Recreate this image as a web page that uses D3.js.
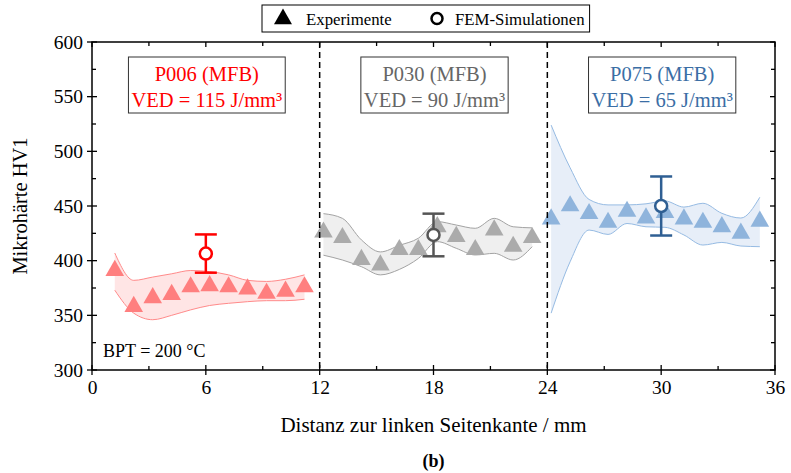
<!DOCTYPE html>
<html>
<head>
<meta charset="utf-8">
<script src="https://cdn.jsdelivr.net/npm/d3@7"></script>
<style>
  html, body { margin: 0; padding: 0; background: #fff; }
  svg { display: block; }
  svg text { font-family: "Liberation Serif", Tinos, "Times New Roman", "DejaVu Serif", serif; }
</style>
</head>
<body>
<svg id="chart" width="791" height="473"></svg>
<script>
// Messpositionen (mm) und Mikrohärte je Probe
const p006X = [1.2, 2.2, 3.2, 4.2, 5.2, 6.2, 7.2, 8.2, 9.2, 10.2, 11.2];
const p006HV = [391, 358, 366, 369, 376, 377, 376, 374, 370, 372, 376];
const p006Upper = [407, 382, 385, 388, 391, 390, 387, 382, 381, 383, 387];
const p006Lower = [373, 352, 346, 350, 355, 359, 361, 362.5, 363.4, 363.4, 364.7];

const p030X = [12.2, 13.2, 14.2, 15.2, 16.2, 17.2, 18.2, 19.2, 20.2, 21.2, 22.2, 23.2];
const p030HV = [426, 421, 401, 396, 410, 410, 431, 422, 410, 428, 413, 421];
const p030Upper = [443, 438.7, 419, 408, 414, 420.5, 435.7, 432.6, 429.6, 438.7, 431, 430];
const p030Lower = [405, 400.6, 394.5, 387, 392, 402, 417.4, 411.3, 405.2, 406.7, 400.6, 412.8];

const p075X = [24.2, 25.2, 26.2, 27.2, 28.2, 29.2, 30.2, 31.2, 32.2, 33.2, 34.2, 35.2];
const p075HV = [438, 450, 443, 435, 445, 439, 444, 438, 435, 431, 425, 436];
const p075Upper = [524, 485, 456, 451, 451, 452, 454.6, 449, 452.5, 443.3, 439, 458];
const p075Lower = [352, 399, 428, 424, 434, 431, 430.5, 423.5, 414.3, 416.7, 413.4, 412.8];

// FEM-Simulation: Position, Mittelwert, Streuung
const femX = [6, 18, 30];
const femHV = [406.5, 423.5, 450];
const femErr = [17.5, 19.5, 27];

// Probenbezeichnungen
const probeNames = ["P006 (MFB)", "P030 (MFB)", "P075 (MFB)"];
const probeVED = ["VED = 115 J/mm³", "VED = 90 J/mm³", "VED = 65 J/mm³"];

// Achsen
const xTicks = [0, 6, 12, 18, 24, 30, 36];
const yTicks = [300, 350, 400, 450, 500, 550, 600];
const sectionBounds = [12, 24];

const FONT = '"Liberation Serif", Tinos, "Times New Roman", "DejaVu Serif", serif';

const colors = [
  { tri: "#ff7f7f", band: "#ffe5e5", bandLine: "#ff8a8a", fem: "#ff0000", text: "#ff0000" },
  { tri: "#ababab", band: "#efefef", bandLine: "#a3a3a3", fem: "#555555", text: "#666666" },
  { tri: "#8fb4dc", band: "#e7eef8", bandLine: "#96bbe3", fem: "#2f5f93", text: "#3b6ea5" }
];

const series = [
  { x: p006X, hv: p006HV, up: p006Upper, lo: p006Lower },
  { x: p030X, hv: p030HV, up: p030Upper, lo: p030Lower },
  { x: p075X, hv: p075HV, up: p075Upper, lo: p075Lower }
];

const svg = d3.select("#chart");
const L = 92, R = 775, T = 42, B = 370;

const x = d3.scaleLinear().domain([0, 36]).range([L, R]);
const y = d3.scaleLinear().domain([300, 600]).range([B, T]);

const plot = svg.append("g");

// Streubänder
series.forEach((s, i) => {
  const pts = s.x.map((v, k) => ({ x: v, up: s.up[k], lo: s.lo[k] }));
  const area = d3.area().curve(d3.curveMonotoneX)
    .x(d => x(d.x)).y0(d => y(d.lo)).y1(d => y(d.up));
  plot.append("path").datum(pts).attr("d", area)
    .attr("fill", colors[i].band).attr("stroke", "none");
  const lineU = d3.line().curve(d3.curveMonotoneX).x(d => x(d.x)).y(d => y(d.up));
  const lineL = d3.line().curve(d3.curveMonotoneX).x(d => x(d.x)).y(d => y(d.lo));
  [lineU, lineL].forEach(l => plot.append("path").datum(pts).attr("d", l)
    .attr("fill", "none").attr("stroke", colors[i].bandLine).attr("stroke-width", 1));
});

// Messpunkte (Dreiecke)
const tri = d3.symbol().type(d3.symbolTriangle).size(150);
series.forEach((s, i) => {
  plot.selectAll(null).data(s.x.map((v, k) => [v, s.hv[k]])).enter()
    .append("path").attr("d", tri)
    .attr("transform", d => `translate(${x(d[0])},${y(d[1])})`)
    .attr("fill", colors[i].tri);
});

// Abschnittsgrenzen
sectionBounds.forEach(b => {
  plot.append("line").attr("x1", x(b)).attr("x2", x(b)).attr("y1", T).attr("y2", B)
    .attr("stroke", "#000").attr("stroke-width", 1.5).attr("stroke-dasharray", "6,4");
});

// FEM-Werte mit Fehlerbalken
femX.forEach((fx, i) => {
  const g = plot.append("g").attr("stroke", colors[i].fem).attr("stroke-width", 2.5);
  const cx = x(fx), cap = 11;
  g.append("line").attr("x1", cx).attr("x2", cx)
    .attr("y1", y(femHV[i] + femErr[i])).attr("y2", y(femHV[i] - femErr[i]));
  [femHV[i] + femErr[i], femHV[i] - femErr[i]].forEach(v =>
    g.append("line").attr("x1", cx - cap).attr("x2", cx + cap).attr("y1", y(v)).attr("y2", y(v)));
  g.append("circle").attr("cx", cx).attr("cy", y(femHV[i])).attr("r", 6).attr("fill", "#fff");
});

// Rahmen und Achsen
const axisStroke = 1.5;
svg.append("rect").attr("x", L).attr("y", T).attr("width", R - L).attr("height", B - T)
  .attr("fill", "none").attr("stroke", "#000").attr("stroke-width", axisStroke);

const xAxis = svg.append("g").attr("transform", `translate(0,${B})`)
  .call(d3.axisBottom(x).tickValues(xTicks).tickSize(0).tickPadding(10).tickFormat(d3.format("d")));
xAxis.attr("font-family", FONT).attr("font-size", 19.5);
xAxis.select(".domain").remove();
xAxis.selectAll("text").attr("fill", "#000");

const yAxis = svg.append("g").attr("transform", `translate(${L},0)`)
  .call(d3.axisLeft(y).tickValues(yTicks).tickSize(0).tickPadding(9).tickFormat(d3.format("d")));
yAxis.attr("font-family", FONT).attr("font-size", 19.5);
yAxis.select(".domain").remove();
yAxis.selectAll("text").attr("fill", "#000");

// Teilstriche
const ticks = svg.append("g").attr("stroke", "#000").attr("stroke-width", 1.3);
const xMinor = d3.range(3, 36, 6);
const yMinor = d3.range(325, 600, 50);
xTicks.forEach(v => {
  ticks.append("line").attr("x1", x(v)).attr("x2", x(v)).attr("y1", B - 5).attr("y2", B + 5);
  ticks.append("line").attr("x1", x(v)).attr("x2", x(v)).attr("y1", T).attr("y2", T + 5);
});
xMinor.forEach(v => {
  ticks.append("line").attr("x1", x(v)).attr("x2", x(v)).attr("y1", B - 4).attr("y2", B);
  ticks.append("line").attr("x1", x(v)).attr("x2", x(v)).attr("y1", T).attr("y2", T + 4);
});
yTicks.forEach(v => {
  ticks.append("line").attr("x1", L - 5).attr("x2", L + 5).attr("y1", y(v)).attr("y2", y(v));
  ticks.append("line").attr("x1", R - 5).attr("x2", R).attr("y1", y(v)).attr("y2", y(v));
});
yMinor.forEach(v => {
  ticks.append("line").attr("x1", L).attr("x2", L + 4).attr("y1", y(v)).attr("y2", y(v));
  ticks.append("line").attr("x1", R - 4).attr("x2", R).attr("y1", y(v)).attr("y2", y(v));
});

// Achsentitel
svg.append("text").attr("x", (L + R) / 2).attr("y", 432).attr("text-anchor", "middle")
  .attr("font-size", 21).text("Distanz zur linken Seitenkante / mm");
svg.append("text").attr("transform", `translate(27,${(T + B) / 2}) rotate(-90)`)
  .attr("text-anchor", "middle").attr("font-size", 20.5).text("Mikrohärte HV1");
svg.append("text").attr("x", (L + R) / 2).attr("y", 467).attr("text-anchor", "middle")
  .attr("font-size", 18).attr("font-weight", "bold").text("(b)");

// Probenbeschriftung
const boxTop = 57, boxBottom = 113;
femX.forEach((fx, i) => {
  const g = svg.append("g");
  const cx = x(fx) + 1;
  const t1 = g.append("text").attr("x", cx).attr("y", 81).attr("text-anchor", "middle")
    .attr("font-size", 20.5).attr("fill", colors[i].text).text(probeNames[i]);
  const t2 = g.append("text").attr("x", cx).attr("y", 107).attr("text-anchor", "middle")
    .attr("font-size", 20.5).attr("fill", colors[i].text).text(probeVED[i]);
  const w = Math.max(t1.node().getComputedTextLength(), t2.node().getComputedTextLength()) + 6;
  g.insert("rect", "text").attr("x", cx - w / 2).attr("y", boxTop).attr("width", w)
    .attr("height", boxBottom - boxTop).attr("fill", "#fff").attr("stroke", "#333").attr("stroke-width", 1);
});

svg.append("text").attr("x", 103).attr("y", 357).attr("font-size", 18).text("BPT = 200 °C");

// Legende
const leg = svg.append("g");
const legBox = leg.append("rect").attr("x", 262).attr("y", 5).attr("height", 27)
  .attr("fill", "#fff").attr("stroke", "#000").attr("stroke-width", 1);
leg.append("path").attr("d", d3.symbol().type(d3.symbolTriangle).size(140))
  .attr("transform", "translate(283,19)").attr("fill", "#000");
leg.append("text").attr("x", 306).attr("y", 24.5).attr("font-size", 16.8).text("Experimente");
leg.append("circle").attr("cx", 437).attr("cy", 18.5).attr("r", 5.5)
  .attr("fill", "#fff").attr("stroke", "#000").attr("stroke-width", 2.5);
const femLabel = leg.append("text").attr("x", 455).attr("y", 24.5).attr("font-size", 16.8)
  .text("FEM-Simulationen");
legBox.attr("width", 455 + femLabel.node().getComputedTextLength() + 5 - 262);
</script>
</body>
</html>
